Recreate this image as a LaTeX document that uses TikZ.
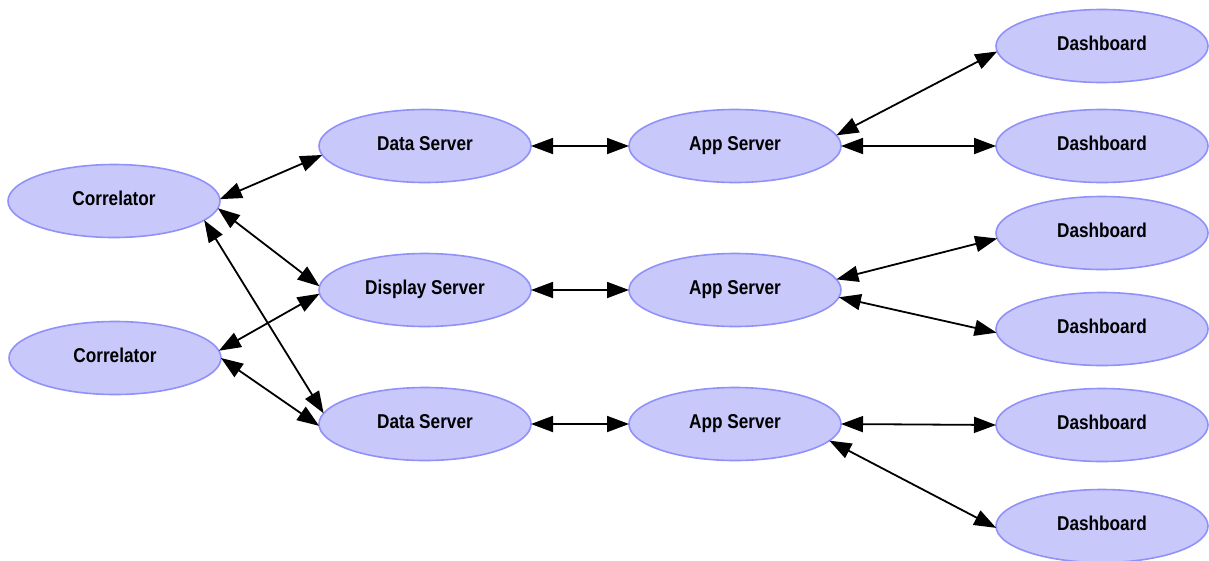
\documentclass[tikz,border=0pt]{standalone}
\usepackage{fontspec}
\newfontfamily\labfont{Liberation Sans Bold}[FakeStretch=0.86]
\usetikzlibrary{arrows.meta,shapes.geometric}
\definecolor{nodefill}{RGB}{200,200,250}
\definecolor{nodeline}{RGB}{145,145,250}
\begin{document}
\begin{tikzpicture}[x=1pt,y=-1pt,
  nd/.style={ellipse, draw=nodeline, fill=nodefill, line width=1.6pt,
    minimum width=212pt, minimum height=73pt, inner sep=0pt, outer sep=0pt,
    text height=15pt, text depth=7pt,
    font=\labfont\fontsize{20}{24}\selectfont},
  lnk/.style={{Triangle[length=22pt,width=16pt]}-{Triangle[length=22pt,width=16pt]},
    line width=1.8pt, black}]
\fill[white] (0,0) rectangle (1209,560);
\useasboundingbox (0,0) rectangle (1209,560);
% nodes
\node[nd] (c1) at (114,201) {Correlator};
\node[nd] (c2) at (115,358) {Correlator};
\node[nd] (ds1) at (425,146) {Data Server};
\node[nd] (disp) at (425,290) {Display Server};
\node[nd] (ds2) at (425,424) {Data Server};
\node[nd] (as1) at (735,146) {App Server};
\node[nd] (as2) at (735,290) {App Server};
\node[nd] (as3) at (735,424) {App Server};
\node[nd] (db1) at (1102,46) {Dashboard};
\node[nd] (db2) at (1102,146) {Dashboard};
\node[nd] (db3) at (1102,233) {Dashboard};
\node[nd] (db4) at (1102,329) {Dashboard};
\node[nd] (db5) at (1102,425) {Dashboard};
\node[nd] (db6) at (1102,526) {Dashboard};
% connectors
\draw[lnk] (c1.1) -- (ds1.185);
\draw[lnk] (c1.-4) -- (disp.178);
\draw[lnk] (c1.-12) -- (ds2.174);
\draw[lnk] (c2.4) -- (disp.182);
\draw[lnk] (c2.0) -- (ds2.181);
\draw[lnk] (ds1.east) -- (as1.west);
\draw[lnk] (disp.east) -- (as2.west);
\draw[lnk] (ds2.east) -- (as3.west);
\draw[lnk] (as1.6) -- (db1.183);
\draw[lnk] (as1.0) -- (db2.180);
\draw[lnk] (as2.6) -- (db3.183);
\draw[lnk] (as2.-4) -- (db4.182);
\draw[lnk] (as3.0) -- (db5.180);
\draw[lnk] (as3.-10) -- (db6.181);
\end{tikzpicture}
\end{document}
